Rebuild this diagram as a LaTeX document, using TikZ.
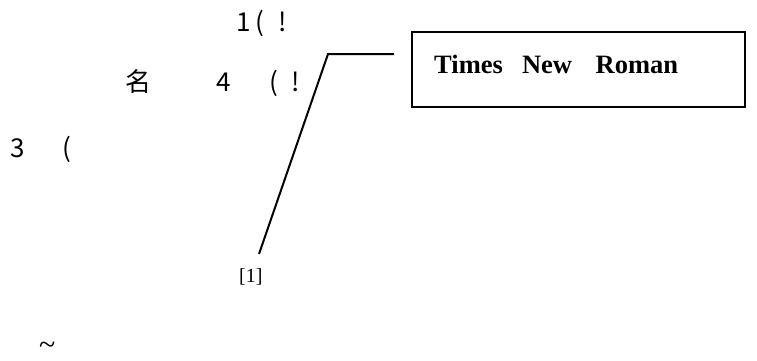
\documentclass[tikz,border=0pt]{standalone}
\usepackage{fontspec}
\newfontfamily\cjk{Noto Sans CJK SC}
\newfontfamily\tnr{Liberation Serif}
\newcommand{\gl}[2]{\makebox[#1pt][c]{#2}}
\begin{document}
\begin{tikzpicture}[x=1pt,y=-1pt,
  cjktext/.style={anchor=base west,inner sep=0pt,font=\cjk\fontsize{26}{26}\selectfont},
  serif/.style={anchor=base west,inner sep=0pt},
  leader/.style={line width=2pt,line join=miter},
  framebox/.style={draw,line width=2.4pt,minimum width=332.6pt,minimum height=74.6pt,inner sep=0pt}]
\useasboundingbox (0,0) rectangle (757,360);
% texts on the left
\node[cjktext] (l1) at (237,31) {\gl{13}{1}\hspace{3.5pt}\gl{13}{(}\hspace{9.5pt}\gl{13}{!}};
\node[cjktext] (l2) at (125,91) {\gl{26}{名}\hspace{66pt}\gl{13}{4}\hspace{37pt}\gl{13}{(}\hspace{9pt}\gl{13}{!}};
\node[cjktext] (l3) at (11.5,157) {\gl{13}{3}\hspace{36pt}\gl{13}{(}};
\node[serif,font=\tnr\fontsize{20}{20}\selectfont] (ref) at (239,282) {[1]};
\node[serif,font=\tnr\fontsize{30}{30}\selectfont] (tilde) at (39,354) {\textasciitilde};
% box
\node[framebox] (box) at (578.5,69.5) {};
\node[serif,font=\tnr\bfseries\fontsize{26.5}{26.5}\selectfont] (title) at (434,73) {Times \hspace{12.5pt}New \hspace{17pt}Roman};
% leader line
\coordinate (p1) at (259,254);
\coordinate (p2) at (328,54);
\coordinate (p3) at (394,54);
\draw[leader] (p1) -- (p2) -- (p3);
\end{tikzpicture}
\end{document}
